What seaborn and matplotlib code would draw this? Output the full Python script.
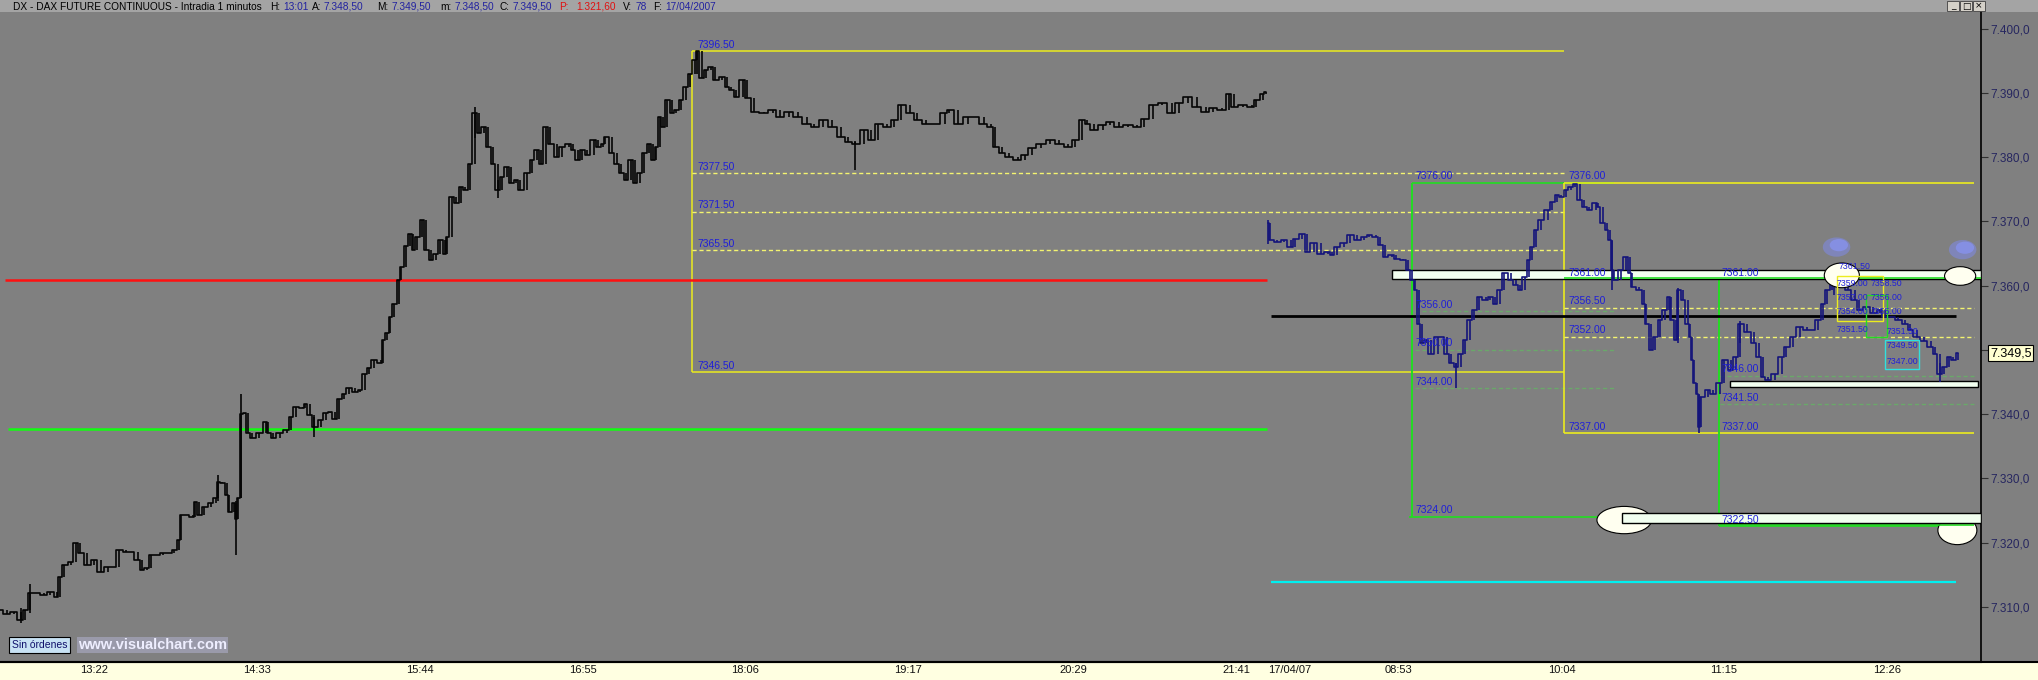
import matplotlib
matplotlib.use("Agg")
import matplotlib.pyplot as plt
from matplotlib.patches import Rectangle, Ellipse
from matplotlib.lines import Line2D
import matplotlib.transforms as mtransforms
import pandas as pd
import seaborn as sns

# x = minutes since 12:47 (16/04), session of 17/04 starts at 553
day1_t = [0, 3, 6, 9, 11, 13, 16, 19, 22, 25,
          26, 28, 31, 33, 35, 38, 41, 44, 47, 49,
          52, 55, 57, 60, 62, 64, 66, 69, 71, 74,
          76, 78, 79, 81, 84, 85, 87, 89, 92, 94,
          95, 97, 99, 100, 102, 103, 104, 105, 107, 108,
          110, 113, 116, 117, 119, 122, 125, 127, 129, 132,
          133, 135, 137, 140, 142, 144, 146, 148, 150, 152,
          155, 157, 159, 161, 163, 166, 167, 169, 170, 172,
          174, 175, 177, 179, 180, 182, 184, 186, 188, 190,
          192, 194, 195, 197, 199, 201, 203, 205, 207, 209,
          211, 213, 215, 217, 219, 221, 223, 225, 227, 230,
          232, 234, 236, 238, 240, 243, 245, 248, 250, 252,
          254, 256, 259, 261, 263, 264, 267, 269, 271, 273,
          275, 277, 279, 281, 283, 285, 286, 288, 289, 291,
          293, 295, 297, 299, 301, 303, 304, 306, 308, 310,
          312, 315, 317, 319, 321, 324, 326, 329, 333, 337,
          340, 344, 348, 352, 355, 359, 363, 367, 370, 373,
          377, 380, 383, 387, 390, 393, 397, 400, 404, 408,
          412, 414, 418, 422, 425, 429, 432, 434, 437, 440,
          444, 447, 450, 454, 458, 462, 466, 469, 472, 474,
          477, 481, 484, 488, 492, 496, 499, 503, 507, 511,
          514, 518, 522, 526, 529, 533, 536, 538, 542, 546,
          548, 551, 552]
day1_px = [7309.5, 7308.9, 7309.2, 7307.9, 7309.5, 7312.1, 7312.1, 7311.8, 7312.3, 7311.5,
           7314.7, 7316.5, 7317.0, 7319.9, 7318.3, 7316.5, 7317.3, 7315.4, 7316.2, 7316.2,
           7318.8, 7318.6, 7318.6, 7317.3, 7315.7, 7316.0, 7318.0, 7318.0, 7318.3, 7318.3,
           7318.8, 7320.4, 7324.3, 7324.3, 7324.0, 7326.3, 7324.3, 7325.6, 7326.1, 7326.9,
           7329.5, 7329.2, 7327.4, 7324.8, 7326.1, 7323.7, 7327.0, 7340.0, 7340.1, 7337.0,
           7336.2, 7337.0, 7338.8, 7337.0, 7336.2, 7337.0, 7337.5, 7339.6, 7341.1, 7340.9,
           7341.6, 7339.8, 7338.0, 7339.1, 7340.1, 7340.4, 7339.3, 7342.4, 7343.2, 7344.0,
           7343.5, 7343.8, 7346.3, 7347.1, 7348.4, 7347.9, 7351.5, 7352.6, 7355.1, 7357.2,
           7360.9, 7362.9, 7366.1, 7368.1, 7365.5, 7367.6, 7370.2, 7365.5, 7364.0, 7365.0,
           7367.1, 7365.0, 7367.6, 7373.8, 7372.8, 7375.4, 7374.9, 7379.0, 7386.8, 7383.7,
           7384.7, 7381.6, 7379.0, 7374.9, 7376.9, 7378.5, 7375.9, 7376.4, 7374.9, 7377.5,
           7379.5, 7381.1, 7379.0, 7384.7, 7382.1, 7380.1, 7381.6, 7382.1, 7381.1, 7379.5,
           7381.1, 7380.3, 7382.7, 7381.6, 7382.1, 7383.2, 7380.6, 7379.0, 7377.5, 7376.4,
           7379.5, 7375.9, 7377.5, 7380.6, 7382.1, 7379.5, 7381.6, 7386.3, 7384.7, 7388.9,
           7386.8, 7387.3, 7388.9, 7391.0, 7393.0, 7395.1, 7396.5, 7392.3, 7393.6, 7394.1,
           7392.0, 7392.5, 7391.0, 7390.4, 7389.4, 7392.0, 7389.2, 7387.1, 7386.8, 7387.3,
           7386.3, 7387.1, 7386.3, 7385.2, 7384.7, 7385.8, 7384.7, 7383.2, 7382.4, 7382.1,
           7384.2, 7382.7, 7385.2, 7384.7, 7385.8, 7388.1, 7386.8, 7385.8, 7385.2, 7385.2,
           7386.8, 7387.3, 7385.2, 7386.3, 7386.3, 7385.2, 7384.7, 7381.6, 7380.6, 7380.1,
           7379.5, 7380.3, 7381.4, 7382.1, 7382.7, 7382.1, 7381.6, 7382.7, 7385.8, 7385.2,
           7384.2, 7385.0, 7385.5, 7384.7, 7385.0, 7384.7, 7386.0, 7388.1, 7388.4, 7386.8,
           7388.4, 7389.4, 7387.8, 7387.1, 7387.6, 7387.3, 7389.9, 7387.8, 7388.1, 7387.8,
           7388.9, 7389.9, 7390.2]

day2_t = [553, 554, 557, 560, 563, 565, 568, 570, 573, 576,
          579, 581, 583, 586, 589, 592, 595, 597, 600, 602,
          604, 607, 609, 612, 614, 616, 617, 619, 620, 622,
          624, 627, 629, 631, 633, 635, 637, 639, 641, 643,
          645, 648, 650, 652, 654, 656, 659, 661, 663, 665,
          667, 668, 670, 672, 675, 677, 679, 681, 683, 685,
          687, 689, 691, 693, 696, 697, 699, 701, 702, 703,
          704, 707, 709, 711, 712, 715, 717, 718, 720, 722,
          724, 726, 728, 729, 731, 732, 734, 736, 737, 738,
          739, 740, 741, 742, 745, 747, 750, 752, 755, 757,
          759, 762, 765, 767, 769, 771, 774, 777, 779, 782,
          785, 788, 790, 793, 795, 797, 799, 800, 803, 806,
          809, 811, 814, 817, 820, 822, 825, 828, 831, 833,
          836, 839, 842, 844, 846, 848, 850, 852, 854]
day2_px = [7369.7, 7367.1, 7366.8, 7367.1, 7366.0, 7367.3, 7368.1, 7365.3, 7366.6, 7365.0,
           7365.3, 7364.7, 7366.0, 7366.6, 7367.9, 7367.1, 7367.6, 7367.9, 7367.6, 7366.3,
           7364.5, 7364.7, 7364.2, 7364.0, 7362.4, 7360.9, 7359.3, 7354.1, 7351.0, 7351.5,
           7349.4, 7352.0, 7352.0, 7349.4, 7347.9, 7347.4, 7349.4, 7351.5, 7354.6, 7356.2,
           7358.3, 7357.7, 7358.3, 7357.2, 7359.3, 7361.9, 7360.9, 7360.1, 7359.3, 7361.4,
           7364.0, 7366.0, 7368.6, 7370.2, 7371.7, 7373.0, 7374.1, 7373.8, 7374.9, 7375.4,
           7375.8, 7373.3, 7372.3, 7371.7, 7372.8, 7372.3, 7369.7, 7368.6, 7367.1, 7362.4,
           7360.9, 7362.4, 7364.5, 7361.9, 7359.8, 7359.3, 7357.2, 7354.1, 7349.9, 7352.0,
           7354.6, 7356.2, 7358.3, 7354.6, 7351.5, 7359.3, 7357.7, 7354.1, 7352.0, 7348.4,
           7344.8, 7343.2, 7338.0, 7342.7, 7343.7, 7343.2, 7344.8, 7348.4, 7346.9, 7348.9,
           7354.1, 7352.8, 7351.0, 7348.9, 7345.8, 7345.3, 7346.3, 7348.9, 7350.5, 7352.0,
           7353.6, 7353.1, 7353.1, 7354.6, 7357.2, 7359.3, 7360.9, 7361.4, 7360.3, 7359.3,
           7357.7, 7356.2, 7356.7, 7355.7, 7356.2, 7355.1, 7355.1, 7354.6, 7354.1, 7353.1,
           7352.0, 7351.3, 7350.5, 7349.4, 7346.3, 7347.4, 7348.9, 7348.4, 7349.5]

# long wicks that stick out of the price path
wick_t = [9, 13, 95, 103, 105, 137, 207, 217, 304, 373, 553, 635, 703, 732, 741, 759, 800, 846]
wick_lo = [7307.5, 7309.0, 7326.5, 7318.0, 7327.0, 7336.5, 7383.0, 7373.6, 7393.0, 7378.0,
           7366.5, 7344.0, 7359.3, 7351.0, 7337.0, 7351.0, 7358.5, 7345.0]
wick_hi = [7309.8, 7313.5, 7330.5, 7326.5, 7343.2, 7339.5, 7387.8, 7376.5, 7396.6, 7382.5,
           7370.2, 7348.0, 7367.0, 7359.7, 7343.0, 7354.5, 7361.5, 7348.0]

xtick_pos = [35, 106, 177, 248, 319, 390, 462, 533, 553, 604, 675, 746, 817]
xtick_lab = ["13:22", "14:33", "15:44", "16:55", "18:06", "19:17", "20:29", "21:41",
             "17/04/07", "08:53", "10:04", "11:15", "12:26"]
ytick_pos = [7310, 7320, 7330, 7340, 7350, 7360, 7370, 7380, 7390, 7400]
ytick_lab = ["7.310,0", "7.320,0", "7.330,0", "7.340,0", "", "7.360,0",
             "7.370,0", "7.380,0", "7.390,0", "7.400,0"]

# levels drawn on the chart
red_level = 7360.8
green_level = 7337.75
black_level = 7355.3
cyan_level = 7313.8
box1_levels = [7396.5, 7377.5, 7371.5, 7365.5, 7346.5]
box2_levels = [7376.0, 7356.0, 7350.0, 7344.0, 7324.0]
box3_levels = [7376.0, 7361.0, 7356.5, 7352.0, 7337.0]
box4_levels = [7361.0, 7346.0, 7341.5, 7337.0, 7322.5]
small_labels = ["7361.50", "7359.00", "7357.00", "7354.00", "7351.50",
                "7358.50", "7356.00", "7355.00", "7351.50", "7349.50", "7347.00"]
small_label_t = [802, 801, 801, 801, 801, 816, 816, 816, 823, 823, 823]
small_label_px = [7362.9, 7360.3, 7358.1, 7355.9, 7353.2,
                  7360.3, 7358.1, 7355.9, 7352.9, 7350.7, 7348.2]
last_price = "7.349,5"

sns.set_theme(style="white")
FONT = ["Liberation Sans Narrow", "Liberation Sans", "DejaVu Sans"]
plt.rcParams["font.family"] = FONT

GRAY = "#808080"
YEL = "#ecec1e"
GRN = "#22dd22"
LBL = "#1f1fd8"
BAR1 = "#050505"
BAR2 = "#14147a"

fig = plt.figure(figsize=(20.38, 6.8), dpi=100, facecolor=GRAY)
ax = fig.add_axes([0, 18 / 680, 1981 / 2038, 650 / 680], facecolor=GRAY)
ax.set_xlim(0, 864)
ax.set_ylim(7301.4, 7402.6)

# window chrome
fig.patches.append(Rectangle((0, 1 - 12 / 680), 1, 12 / 680, transform=fig.transFigure,
                             facecolor="#a4a4a4", edgecolor="none", zorder=-1))
fig.patches.append(Rectangle((0, 0), 1, 18 / 680, transform=fig.transFigure,
                             facecolor="#ffffe1", edgecolor="none", zorder=-1))
fig.lines.append(Line2D([0, 1], [18 / 680, 18 / 680], transform=fig.transFigure,
                        color="black", lw=1.5))

# price bars
d1 = pd.DataFrame({"t": day1_t, "px": day1_px})
d2 = pd.DataFrame({"t": day2_t, "px": day2_px})
sns.lineplot(data=d1, x="t", y="px", ax=ax, color=BAR1, lw=1.2,
             drawstyle="steps-mid", estimator=None, zorder=4)
sns.lineplot(data=d2, x="t", y="px", ax=ax, color=BAR2, lw=1.2,
             drawstyle="steps-mid", estimator=None, zorder=4)
for d, col in ((d1, BAR1), (d2, BAR2)):
    prev = d["px"].shift(1).fillna(d["px"])
    lo = d["px"].combine(prev, min)
    hi = d["px"].combine(prev, max)
    ax.vlines(d["t"], lo, hi, color=col, lw=1.2, zorder=4)
wick_col = [BAR1 if t < 553 else BAR2 for t in wick_t]
ax.vlines(wick_t, wick_lo, wick_hi, colors=wick_col, lw=1.2, zorder=4)

# support / resistance lines
ax.hlines(red_level, 2, 552.5, color="#ff1010", lw=1.8, zorder=3)
ax.hlines(green_level, 3.5, 552.5, color="#10ff10", lw=1.8, zorder=3)
ax.hlines(black_level, 554.5, 853, color="black", lw=2.0, zorder=3)
ax.hlines(cyan_level, 554.5, 853, color="#00f0f0", lw=1.6, zorder=3)


def label(x, y, s):
    ax.text(x, y + 0.25, s, color=LBL, fontsize=7.5, va="bottom", ha="left", zorder=6)


# box from the 16/04 afternoon
ax.vlines(302, box1_levels[-1], box1_levels[0], color=YEL, lw=1.1, zorder=2)
ax.hlines([box1_levels[0], box1_levels[-1]], 302, 682, color=YEL, lw=1.1, zorder=2)
ax.hlines(box1_levels[1:4], 302, 682, color="#f4f470", lw=1.0, linestyles=(0, (3, 2)), zorder=2)
for lv in box1_levels:
    label(304, lv, f"{lv:.2f}")

# first box of 17/04 (green)
ax.vlines(616, box2_levels[-1], box2_levels[0], color=GRN, lw=1.4, zorder=2)
ax.hlines(box2_levels[0], 616, 704, color=GRN, lw=1.2, zorder=2)
ax.hlines(box2_levels[-1], 614.5, 704, color=GRN, lw=1.2, zorder=2)
ax.hlines(box2_levels[1:4], 617, 704, color="#6aa86a", lw=1.0, linestyles=(0, (3, 2)), zorder=2)
for lv in box2_levels:
    label(617.5, lv, f"{lv:.2f}")

# second box (yellow)
ax.vlines(682, box3_levels[-1], box3_levels[0], color=YEL, lw=1.2, zorder=2)
ax.hlines([box3_levels[0], box3_levels[-1]], 682, 861, color=YEL, lw=1.2, zorder=2)
ax.hlines(box3_levels[2:4], 682, 861, color="#f4f470", lw=1.0, linestyles=(0, (3, 2)), zorder=2)
for lv in box3_levels:
    label(684, lv, f"{lv:.2f}")

# third box (green)
ax.vlines(749.7, box4_levels[-1], box4_levels[0], color=GRN, lw=1.4, zorder=2)
ax.hlines([box4_levels[-1]], 749.7, 861, color=GRN, lw=1.2, zorder=2)
ax.hlines(box4_levels[1:3], 750, 861, color="#6aa86a", lw=1.0, linestyles=(0, (3, 2)), zorder=2)
for lv in box4_levels:
    label(751, lv, f"{lv:.2f}")

# white bands
band_kw = dict(facecolor="#f2fff0", edgecolor="black", lw=1.0)
ax.add_patch(Rectangle((607, 7361.1), 257, 1.4, zorder=3, **band_kw))
ax.add_patch(Rectangle((754.6, 7344.2), 108, 0.9, zorder=3, **band_kw))
ax.hlines(7361.2, 682, 864, color=GRN, lw=1.2, zorder=3.5)

# ellipses
ell_kw = dict(facecolor="#fffff0", edgecolor="black", lw=0.8)
ax.add_patch(Ellipse((708.4, 7323.5), 23.8, 4.25, zorder=3, **ell_kw))
ax.add_patch(Ellipse((853.7, 7321.9), 17.0, 4.45, zorder=3, **ell_kw))
ax.hlines(7322.7, 749.7, 861, color=GRN, lw=1.2, zorder=3.2)
ax.add_patch(Rectangle((707.5, 7323.1), 156.5, 1.5, zorder=3.5, **band_kw))
ax.add_patch(Ellipse((803.3, 7361.6), 15.3, 3.85, zorder=5, **ell_kw))
ax.add_patch(Ellipse((854.9, 7361.5), 13.6, 2.9, zorder=5, **ell_kw))

# blurred blue marks
for cx, cy in ((801, 7366.0), (856, 7365.6)):
    ax.add_patch(Ellipse((cx, cy), 12, 3.0, facecolor="#7f8cff", edgecolor="none", alpha=0.45, zorder=5))
    ax.add_patch(Ellipse((cx + 1, cy + 0.3), 8, 1.9, facecolor="#8a96ff", edgecolor="none", alpha=0.6, zorder=5))

# small late boxes
ax.add_patch(Rectangle((801, 7354.5), 20.4, 7.0, facecolor="none", edgecolor=YEL, lw=1.0, zorder=5))
ax.add_patch(Rectangle((814, 7352.0), 9, 6.5, facecolor="none", edgecolor=GRN, lw=1.0, zorder=5))
ax.add_patch(Rectangle((822, 7347.0), 15, 4.5, facecolor="none", edgecolor="#30e0e0", lw=1.0, zorder=5))
for s, x, y in zip(small_labels, small_label_t, small_label_px):
    ax.text(x, y, s, color=LBL, fontsize=6.3, va="center", ha="left", zorder=6)

# axes styling
for side in ("top", "left"):
    ax.spines[side].set_visible(False)
ax.spines["right"].set_color("black")
ax.spines["right"].set_linewidth(1.2)
ax.spines["bottom"].set_color("black")
ax.spines["bottom"].set_linewidth(1.5)
ax.grid(False)
ax.set_xlabel("")
ax.set_ylabel("")
ax.yaxis.tick_right()
ax.set_yticks(ytick_pos, ytick_lab)
ax.tick_params(axis="y", direction="out", length=5, width=0.8, color="#303030",
               labelsize=8.5, labelcolor="#262660", pad=2)
ax.set_xticks(xtick_pos, xtick_lab)
ax.tick_params(axis="x", direction="in", length=4, width=0.8, color="#c4c4c4",
               labelsize=8, labelcolor="#111111", pad=2)
for t in ax.get_xticklabels():
    t.set_ha("left")

# last price marker on the scale
trans = mtransforms.blended_transform_factory(ax.transAxes, ax.transData)
ax.text(1.0045, 7349.5, last_price, transform=trans, fontsize=9, color="black",
        va="center", ha="left", clip_on=False, zorder=7,
        bbox=dict(boxstyle="square,pad=0.15", facecolor="#ffffd0", edgecolor="black", lw=0.8))

# title bar, pieces laid out one after another
BLUE = "#2222a0"
title_parts = [(13, "DX - DAX FUTURE CONTINUOUS - Intradia 1 minutos", "black"),
               (270, "H:", "black"), (283, "13:01", BLUE), (303, "A:", "black"),
               (318, "7.348,50", BLUE), (377, "M:", "black"), (392, "7.349,50", BLUE),
               (440, "m:", "black"), (448, "7.348,50", BLUE), (500, "C:", "black"),
               (510, "7.349,50", BLUE), (559, "P:", "#e01010"), (576, "1.321,60", "#e01010"),
               (623, "V:", "black"), (634, "78", BLUE), (653, "F:", "black"),
               (665, "17/04/2007", BLUE)]
renderer = fig.canvas.get_renderer()
cursor = 0
for x, s, c in title_parts:
    px = max(x, cursor + 3)
    t = fig.text(px / 2038, 1 - 6.5 / 680, s, color=c, fontsize=7.3, va="center", ha="left")
    cursor = t.get_window_extent(renderer).x1

# window buttons
for i, g in enumerate(["_", "\u25a1", "\u00d7"]):
    bx = (1947 + 13 * i) / 2038
    fig.patches.append(Rectangle((bx, 1 - 11 / 680), 12 / 2038, 10 / 680, transform=fig.transFigure,
                                 facecolor="#d4d0c8", edgecolor="#404040", lw=0.6, zorder=2))
    fig.text(bx + 6 / 2038, 1 - 6 / 680, g, fontsize=6.5, color="black", ha="center",
             va="center", family="DejaVu Sans")

# footer tags
fig.text(12 / 2038, 35 / 680, "Sin órdenes", fontsize=7.5, color="#10106a", va="center", ha="left",
         bbox=dict(boxstyle="square,pad=0.25", facecolor="#c8e2f4", edgecolor="black", lw=0.8))
fig.text(78 / 2038, 35 / 680, "www.visualchart.com", fontsize=10.5, fontweight="bold", color="#eeeeff",
         va="center", ha="left",
         bbox=dict(boxstyle="square,pad=0.1", facecolor="#9a9aaa", edgecolor="none"))

fig.savefig("out.png", dpi=100, facecolor=GRAY)
